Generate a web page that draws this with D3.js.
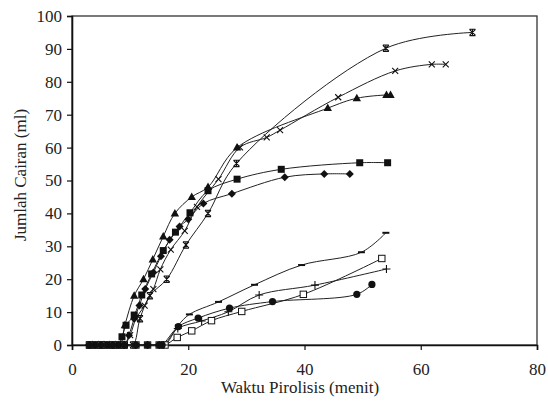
<!DOCTYPE html>
<html>
<head>
<meta charset="utf-8">
<script src="https://cdn.jsdelivr.net/npm/d3@7"></script>
<style>
  body { margin: 0; background: #fff; }
</style>
</head>
<body>
<div id="chart"></div>
<script>
// data: [minutes, ml]
var seriesTri = [[3.5,0],[4.5,0],[5.5,0],[6.5,0],[7.5,0],[8.3,0],[9.1,6],[10.7,15],[12.3,20],[13.9,26],[15.7,33],[17.7,40],[20.6,45],[23.4,48],[28.4,60],[44,72],[49,75],[54.1,76],[54.8,76]];
var seriesSq = [[3,0],[4,0],[5,0],[6,0],[7,0],[8,0],[8.6,2.5],[9.3,6],[10.7,9.1],[12,15.2],[13.7,21.6],[15.7,28.7],[17.8,34.3],[20.3,40.2],[23.4,46.9],[28.4,50.4],[36,53.4],[49.5,55.4],[54.3,55.4]];
var seriesDia = [[3,0],[4,0],[5,0],[6,0],[7,0],[8,0],[9,0],[9.8,3],[10.7,8],[11.6,12],[12.6,17],[14,22],[15.3,27],[16.8,32],[18.5,36],[20,38.2],[22.6,43],[27.5,46],[36.6,51],[43.4,52],[47.8,52]];
var seriesX = [[3,0],[4,0],[5,0],[6,0],[7,0],[8,0],[9,0],[10,3],[11,8],[12.5,12],[14,17],[15.2,23],[17,29],[19.4,34.7],[21.5,42],[25.2,50.4],[28.9,60.1],[33.5,63.1],[35.8,65.3],[45.8,75.3],[55.6,83.3],[61.9,85.3],[64.3,85.3]];
var seriesStar = [[3,0],[4,0],[5,0],[6,0],[7,0],[8,0],[9,0],[10.5,0],[11.7,8],[13.4,15],[16.3,20],[19.6,30.4],[23.4,40],[28.3,55.2],[54,90.2],[68.9,95]];
var seriesDash = [[3,0],[5,0],[7,0],[9,0],[11,0],[13,0],[15,0],[16,0],[18.3,6],[20.2,9.3],[25.2,13.1],[31.4,18.3],[39.5,24.3],[49.8,28.2],[54,34.1]];
var seriesOpenSq = [[3,0],[5,0],[7,0],[9,0],[11,0],[13,0],[15,0],[16,0],[18.1,2.3],[20.6,4.3],[24,7.4],[29.2,10.2],[39.8,15.4],[53.3,26.3]];
var seriesPlus = [[3,0],[5,0],[7,0],[9,0],[11,0],[13,0],[15,0],[15.8,0],[18.2,5],[22.3,7.3],[26.9,10.1],[32.2,15.2],[41.8,18.2],[54.1,23.1]];
var seriesDot = [[3,0],[5,0],[7,0],[9,0],[11,0],[13,0],[15,0],[15.5,0],[18.3,5.6],[21.7,8.2],[27.1,11.2],[34.5,13.2],[49,15.4],[51.6,18.4]];

var xTicks = [0, 20, 40, 60, 80];
var yTicks = [0, 10, 20, 30, 40, 50, 60, 70, 80, 90, 100];

var FONT = "'Liberation Serif', 'Times New Roman', Times, serif";
var width = 548, height = 402;
var margin = {top: 16, right: 11, bottom: 57, left: 72};

var svg = d3.select("#chart").append("svg")
    .attr("width", width)
    .attr("height", height);

var x = d3.scaleLinear().domain([0, 80]).range([margin.left, width - margin.right]);
var y = d3.scaleLinear().domain([0, 100]).range([height - margin.bottom, margin.top]);

// plot frame
svg.append("rect")
    .attr("x", x(0)).attr("y", y(100))
    .attr("width", x(80) - x(0)).attr("height", y(0) - y(100))
    .style("fill", "none").style("stroke", "#333").style("stroke-width", 1.3);

var xAxis = svg.append("g")
    .attr("transform", "translate(0," + y(0) + ")")
    .call(d3.axisBottom(x).tickValues(xTicks).tickSize(5).tickPadding(13).tickFormat(d3.format("d")));
var yAxis = svg.append("g")
    .attr("transform", "translate(" + x(0) + ",0)")
    .call(d3.axisLeft(y).tickValues(yTicks).tickSize(5).tickPadding(5).tickFormat(d3.format("d")));

[xAxis, yAxis].forEach(function(a) {
  a.attr("font-family", null);
  a.select(".domain").style("stroke", "#111").style("stroke-width", 1.6);
  a.selectAll(".tick line").style("stroke", "#111").style("stroke-width", 1.2);
  a.selectAll("text").style("font-family", FONT).style("font-size", "17px").style("fill", "#222");
});

svg.append("text")
    .attr("x", 300).attr("y", 393)
    .attr("text-anchor", "middle")
    .style("font-family", FONT)
    .style("font-size", "17px")
    .style("fill", "#222")
    .text("Waktu Pirolisis (menit)");

svg.append("text")
    .attr("transform", "translate(26,175) rotate(-90)")
    .attr("text-anchor", "middle")
    .style("font-family", FONT)
    .style("font-size", "17px")
    .style("fill", "#222")
    .text("Jumlah Cairan (ml)");

var line = d3.line()
    .x(function(d) { return x(d[0]); })
    .y(function(d) { return y(d[1]); })
    .curve(d3.curveCatmullRom.alpha(0.5));

var all = [
  {data: seriesTri, marker: "tri"},
  {data: seriesSq, marker: "sq"},
  {data: seriesDia, marker: "dia"},
  {data: seriesX, marker: "x"},
  {data: seriesStar, marker: "star"},
  {data: seriesDash, marker: "dash"},
  {data: seriesOpenSq, marker: "osq"},
  {data: seriesPlus, marker: "plus"},
  {data: seriesDot, marker: "dot"}
];

var g = svg.append("g");

all.forEach(function(s) {
  g.append("path")
    .attr("d", line(s.data))
    .style("fill", "none")
    .style("stroke", "#222")
    .style("stroke-width", 1);
});

function drawMarker(sel, type) {
  if (type == "tri") {
    sel.append("path").attr("d", "M0,-4.5L4.2,3L-4.2,3Z").style("fill", "#111");
  } else if (type == "sq") {
    sel.append("rect").attr("x", -3.5).attr("y", -3.5).attr("width", 7).attr("height", 7).style("fill", "#111");
  } else if (type == "dia") {
    sel.append("path").attr("d", "M0,-4L4,0L0,4L-4,0Z").style("fill", "#111");
  } else if (type == "x") {
    sel.append("path").attr("d", "M-3,-3L3,3M3,-3L-3,3").style("stroke", "#111").style("stroke-width", 1.1);
  } else if (type == "star") {
    sel.append("path").attr("d", "M-3,-3L3,3M3,-3L-3,3M-3,-3.2L3,-3.2M-3,3.2L3,3.2M0,-3L0,3").style("stroke", "#111").style("stroke-width", 1.1);
  } else if (type == "dash") {
    sel.append("path").attr("d", "M-3.5,0L3.5,0").style("stroke", "#111").style("stroke-width", 2);
  } else if (type == "osq") {
    sel.append("rect").attr("x", -3.2).attr("y", -3.2).attr("width", 6.4).attr("height", 6.4)
      .style("fill", "#fff").style("stroke", "#111").style("stroke-width", 1);
  } else if (type == "plus") {
    sel.append("path").attr("d", "M-4,0L4,0M0,-4L0,4").style("stroke", "#111").style("stroke-width", 1.1);
  } else if (type == "dot") {
    sel.append("circle").attr("r", 3.6).style("fill", "#111");
  }
}

all.forEach(function(s) {
  g.selectAll(null)
    .data(s.data)
    .enter().append("g")
    .attr("transform", function(d) { return "translate(" + x(d[0]) + "," + y(d[1]) + ")"; })
    .each(function() { drawMarker(d3.select(this), s.marker); });
});
</script>
</body>
</html>
